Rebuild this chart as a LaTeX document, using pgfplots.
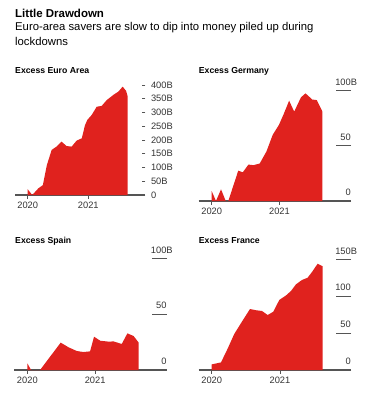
\documentclass[border=0pt]{standalone}
\usepackage{fontspec}
\setmainfont{Liberation Sans}
\usepackage{pgfplots}
\pgfplotsset{compat=1.18}
\definecolor{bbred}{HTML}{E0221E}
\definecolor{axgray}{HTML}{555555}
\definecolor{lblgray}{HTML}{333333}
\pgfplotsset{
  bbpanel/.style={
    scale only axis,
    anchor=south west,
    axis x line*=bottom,
    axis y line*=right,
    x axis line style={-, draw=axgray, line width=1.1pt},
    y axis line style={draw=none},
    tick align=outside,
    xtick={0,12}, xticklabels={2020,2021},
    major x tick style={draw=none},
    minor xtick={0,12},
    minor x tick style={draw=axgray, line width=0.9pt},
    minor tick length=3.5pt,
    y tick style={draw=axgray, line width=0.9pt},
    ymin=0,
    clip=false,
    tick label style={font=\fontsize{9.3}{11}\selectfont, text=lblgray},
    xticklabel style={anchor=north, inner sep=0pt},
  },
}
\begin{document}
\begin{tikzpicture}
\path[use as bounding box] (0,0) rectangle (372pt,-393pt);
\node[anchor=base west, inner sep=0pt, font=\fontsize{11.5}{13}\selectfont\bfseries] at (15pt,-17.3pt) {Little Drawdown};
\node[anchor=base west, inner sep=0pt, font=\fontsize{11.3}{13}\selectfont] at (15pt,-31pt) {Euro-area savers are slow to dip into money piled up during};
\node[anchor=base west, inner sep=0pt, font=\fontsize{11.3}{13}\selectfont] at (15pt,-45.5pt) {lockdowns};

\node[anchor=base west, inner sep=0pt, font=\fontsize{8.7}{10}\selectfont\bfseries] at (15pt,-73.8pt) {Excess Euro Area};
\node[anchor=base west, inner sep=0pt, font=\fontsize{8.7}{10}\selectfont\bfseries] at (198.7pt,-73.8pt) {Excess Germany};
\node[anchor=base west, inner sep=0pt, font=\fontsize{8.7}{10}\selectfont\bfseries] at (15pt,-243pt) {Excess Spain};
\node[anchor=base west, inner sep=0pt, font=\fontsize{8.7}{10}\selectfont\bfseries] at (198.7pt,-243pt) {Excess France};

% Euro Area
\begin{axis}[bbpanel, at={(15pt,-195pt)}, width=126.8pt, height=110pt,
  xmin=-2.51, xmax=22.59, ymax=400,
  major tick length=3.5pt,
  x axis line style={shorten >=-3.2pt},
  ytick={0,50,100,150,200,250,300,350,400},
  yticklabels={0,50B,100B,150B,200B,250B,300B,350B,400B},
  yticklabel style={anchor=west, inner sep=0pt, xshift=5.5pt},
  xticklabel style={yshift=-3pt}]
\addplot[fill=bbred, draw=none] coordinates {
(0,21) (0.9,0) (2.1,24) (3.0,36) (3.8,109) (4.75,164) (5.7,176) (6.7,194)
(7.7,178) (8.7,176) (9.7,198) (10.7,206) (11.35,254) (11.8,273) (12.67,291)
(13.66,321) (14.65,324) (15.64,345) (16.96,364) (17.95,376) (18.8,394)
(19.47,379) (19.8,358)} \closedcycle;
\end{axis}

% Germany
\begin{axis}[bbpanel, at={(198.7pt,-201pt)}, width=137.3pt, height=110.3pt,
  xmin=-2.30, xmax=22.0, ymax=100,
  major tick length=15pt,
  x axis line style={shorten >=-15pt},
  ytick={0,50,100}, yticklabels={0,50,100\rlap{B}},
  yticklabel style={anchor=south east, inner sep=0pt, yshift=5pt},
  xticklabel style={yshift=8.5pt}]
\addplot[fill=bbred, draw=none] coordinates {
(0,9) (0.76,0) (1.65,10.6) (2.48,0) (2.94,0) (4.7,27.5) (5.5,26) (6.5,33)
(7.4,32.5) (8.5,34) (9.7,45) (10.8,60) (11.9,69) (12.8,79.5) (13.7,91)
(14.6,81) (15.8,94) (16.6,97.6) (17.8,92) (18.6,91.5) (19.6,81)} \closedcycle;
\end{axis}

% Spain
\begin{axis}[bbpanel, at={(14pt,-370pt)}, width=137.7pt, height=111.7pt,
  xmin=-2.36, xmax=22.0, ymax=100,
  major tick length=15pt,
  x axis line style={shorten >=-15pt},
  ytick={0,50,100}, yticklabels={0,50,100\rlap{B}},
  yticklabel style={anchor=south east, inner sep=0pt, yshift=5pt},
  xticklabel style={yshift=8.5pt}]
\addplot[fill=bbred, draw=none] coordinates {
(0,6) (0.66,0) (2.25,0) (5.9,24.5) (7.3,20.3) (8.75,17) (9.9,16.1) (11.1,16.7)
(11.8,29.8) (12.9,26.2) (14.4,25.4) (15.25,25.6) (16.7,23.3) (17.7,32.8)
(18.8,30.4) (19.7,24.5)} \closedcycle;
\end{axis}

% France
\begin{axis}[bbpanel, at={(198.7pt,-370pt)}, width=137.3pt, height=110.7pt,
  xmin=-2.28, xmax=21.85, ymax=150,
  major tick length=15pt,
  x axis line style={shorten >=-15pt},
  ytick={0,50,100,150}, yticklabels={0,50,100,150\rlap{B}},
  yticklabel style={anchor=south east, inner sep=0pt, yshift=5pt},
  xticklabel style={yshift=8.5pt}]
\addplot[fill=bbred, draw=none] coordinates {
(0,7.6) (1.64,10.3) (2.81,29) (3.98,49) (5.44,67) (6.73,82.6) (7.79,81)
(8.84,80) (9.84,74.5) (10.83,79) (11.89,95) (13.06,101) (13.93,107) (14.81,116)
(15.87,122) (16.86,125) (17.74,134) (18.62,144) (19.5,140.6)} \closedcycle;
\end{axis}
\end{tikzpicture}
\end{document}
